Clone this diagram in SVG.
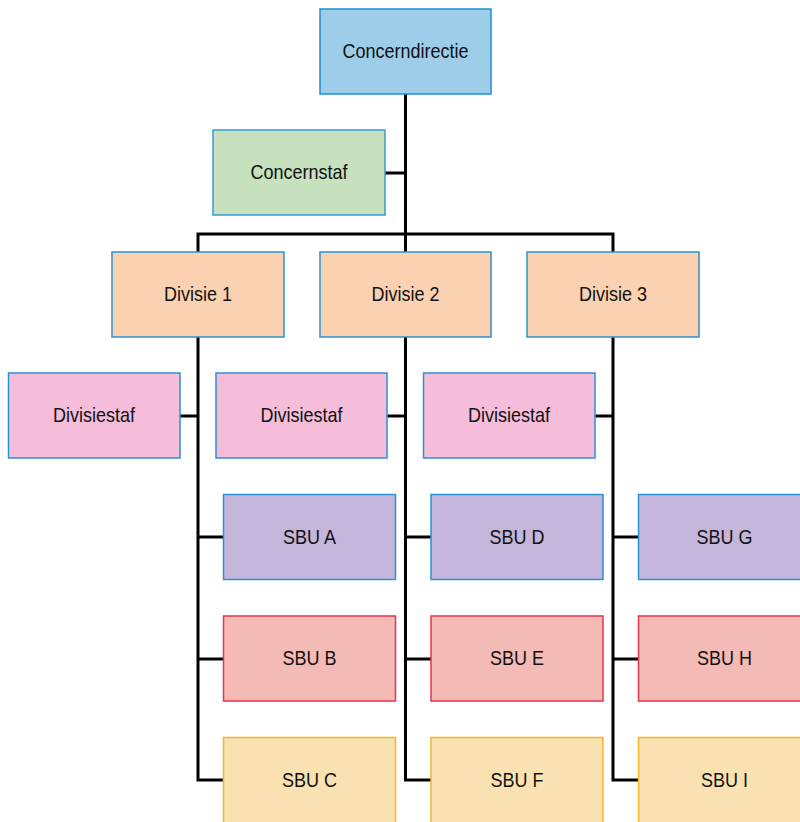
<svg xmlns="http://www.w3.org/2000/svg" width="800" height="822" viewBox="0 0 800 822">
<style>
rect{stroke-width:1.5}
text{font-family:"Liberation Sans",Arial,sans-serif;font-size:20px;fill:#111;text-anchor:middle;dominant-baseline:central}
.top{fill:#9ecdea;stroke:#1b8fd2}
.staf{fill:#c7e0be;stroke:#3a9ad4}
.div{fill:#fbd1b1;stroke:#2a92d2}
.dstaf{fill:#f5bdd9;stroke:#2a92d2}
.sa{fill:#c4b5da;stroke:#2a92d2}
.sb{fill:#f4bab5;stroke:#e8334d}
.sc{fill:#fae1b1;stroke:#f0b923}
.con{fill:none;stroke:#000;stroke-width:3}
</style>
<rect width="800" height="822" fill="#fff"/>
<g id="connectors" class="con">
<path d="M405.5 94V252"/>
<path d="M385 173H405.5"/>
<path d="M198 252V234H613V252"/>
<path d="M198 337V780H223"/>
<path d="M405.5 337V780H431"/>
<path d="M613 337V780H638"/>
<path d="M180 416H198"/>
<path d="M387 416H405.5"/>
<path d="M595 416H613"/>
<path d="M198 537H223M198 659H223"/>
<path d="M405.5 537H431M405.5 659H431"/>
<path d="M613 537H638M613 659H638"/>
</g>
<g id="concerndirectie"><rect class="top" x="320" y="9" width="171" height="85"/><text transform="translate(405.5,51.5) scale(0.9,1)">Concerndirectie</text></g>
<g id="concernstaf"><rect class="staf" x="213" y="130" width="172" height="85"/><text transform="translate(299,172.5) scale(0.9,1)">Concernstaf</text></g>
<g id="divisie1"><rect class="div" x="112" y="252" width="172" height="85"/><text transform="translate(198,294.5) scale(0.9,1)">Divisie 1</text></g>
<g id="divisie2"><rect class="div" x="320" y="252" width="171" height="85"/><text transform="translate(405.5,294.5) scale(0.9,1)">Divisie 2</text></g>
<g id="divisie3"><rect class="div" x="527" y="252" width="172" height="85"/><text transform="translate(613,294.5) scale(0.9,1)">Divisie 3</text></g>
<g id="divisiestaf1"><rect class="dstaf" x="8.5" y="373" width="171.5" height="85"/><text transform="translate(94,415.5) scale(0.9,1)">Divisiestaf</text></g>
<g id="divisiestaf2"><rect class="dstaf" x="216" y="373" width="171" height="85"/><text transform="translate(301.5,415.5) scale(0.9,1)">Divisiestaf</text></g>
<g id="divisiestaf3"><rect class="dstaf" x="423.5" y="373" width="171.5" height="85"/><text transform="translate(509,415.5) scale(0.9,1)">Divisiestaf</text></g>
<g id="sbuA"><rect class="sa" x="223.5" y="494.5" width="172" height="85"/><text transform="translate(309.5,537) scale(0.9,1)">SBU A</text></g>
<g id="sbuB"><rect class="sb" x="223.5" y="616" width="172" height="85"/><text transform="translate(309.5,658.5) scale(0.9,1)">SBU B</text></g>
<g id="sbuC"><rect class="sc" x="223.5" y="737.5" width="172" height="90"/><text transform="translate(309.5,780) scale(0.9,1)">SBU C</text></g>
<g id="sbuD"><rect class="sa" x="431" y="494.5" width="172" height="85"/><text transform="translate(517,537) scale(0.9,1)">SBU D</text></g>
<g id="sbuE"><rect class="sb" x="431" y="616" width="172" height="85"/><text transform="translate(517,658.5) scale(0.9,1)">SBU E</text></g>
<g id="sbuF"><rect class="sc" x="431" y="737.5" width="172" height="90"/><text transform="translate(517,780) scale(0.9,1)">SBU F</text></g>
<g id="sbuG"><rect class="sa" x="638.5" y="494.5" width="172" height="85"/><text transform="translate(724.5,537) scale(0.9,1)">SBU G</text></g>
<g id="sbuH"><rect class="sb" x="638.5" y="616" width="172" height="85"/><text transform="translate(724.5,658.5) scale(0.9,1)">SBU H</text></g>
<g id="sbuI"><rect class="sc" x="638.5" y="737.5" width="172" height="90"/><text transform="translate(724.5,780) scale(0.9,1)">SBU I</text></g>
</svg>
